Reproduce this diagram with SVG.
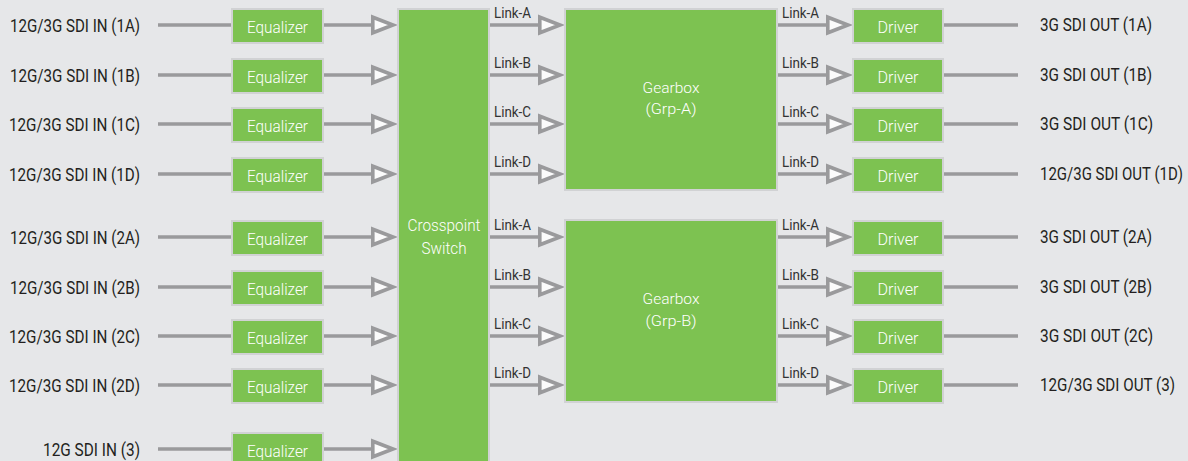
<svg xmlns="http://www.w3.org/2000/svg" width="1188" height="461" viewBox="0 0 1188 461">
<style>
.bg{fill:#e6e7e9}
.box{fill:#7dc251;stroke:#d1d2d4;stroke-width:2}
.ln{stroke:#9a9a9c;stroke-width:3.5;fill:none}
.t{font-family:Roboto,"Liberation Sans",Arial,sans-serif}
.lbl{font-size:17.5px;fill:#231f20;font-weight:400}
.lk{font-size:15.5px;fill:#333333;font-weight:400}
.wt{font-size:16.5px;fill:#ffffff;text-anchor:middle;font-weight:300}
</style>
<defs>
<marker id="arr" markerUnits="userSpaceOnUse" markerWidth="32" markerHeight="26" viewBox="-2 -13 32 26" refX="0" refY="0" orient="auto" overflow="visible">
<path d="M1.8,-7.8 L1.8,7.8 L22,0 Z" fill="#fbfbfb" stroke="#9a9a9c" stroke-width="3.6"/>
</marker>
</defs>
<rect class="bg" x="0" y="0" width="1188" height="461"/>

<g id="connectors">
<path class="ln" d="M158,25H231M158,75H231M158,124H231M158,174H231M158,237H231M158,287H231M158,336H231M158,385H231M158,449H231"/>
<path class="ln" d="M324,25H371" marker-end="url(#arr)"/>
<path class="ln" d="M324,75H371" marker-end="url(#arr)"/>
<path class="ln" d="M324,124H371" marker-end="url(#arr)"/>
<path class="ln" d="M324,174H371" marker-end="url(#arr)"/>
<path class="ln" d="M324,237H371" marker-end="url(#arr)"/>
<path class="ln" d="M324,287H371" marker-end="url(#arr)"/>
<path class="ln" d="M324,336H371" marker-end="url(#arr)"/>
<path class="ln" d="M324,385H371" marker-end="url(#arr)"/>
<path class="ln" d="M324,449H371" marker-end="url(#arr)"/>
<path class="ln" d="M489,25H538" marker-end="url(#arr)"/>
<path class="ln" d="M489,75H538" marker-end="url(#arr)"/>
<path class="ln" d="M489,124H538" marker-end="url(#arr)"/>
<path class="ln" d="M489,174H538" marker-end="url(#arr)"/>
<path class="ln" d="M489,237H538" marker-end="url(#arr)"/>
<path class="ln" d="M489,287H538" marker-end="url(#arr)"/>
<path class="ln" d="M489,336H538" marker-end="url(#arr)"/>
<path class="ln" d="M489,385H538" marker-end="url(#arr)"/>
<path class="ln" d="M778,25H826" marker-end="url(#arr)"/>
<path class="ln" d="M778,75H826" marker-end="url(#arr)"/>
<path class="ln" d="M778,124H826" marker-end="url(#arr)"/>
<path class="ln" d="M778,174H826" marker-end="url(#arr)"/>
<path class="ln" d="M778,237H826" marker-end="url(#arr)"/>
<path class="ln" d="M778,287H826" marker-end="url(#arr)"/>
<path class="ln" d="M778,336H826" marker-end="url(#arr)"/>
<path class="ln" d="M778,385H826" marker-end="url(#arr)"/>
<path class="ln" d="M944,25H1018M944,75H1018M944,124H1018M944,174H1018M944,237H1018M944,287H1018M944,336H1018M944,385H1018"/>
<g class="t lk">
<text x="494" y="18" textLength="37" lengthAdjust="spacingAndGlyphs">Link-A</text>
<text x="494" y="68" textLength="37" lengthAdjust="spacingAndGlyphs">Link-B</text>
<text x="494" y="117" textLength="37" lengthAdjust="spacingAndGlyphs">Link-C</text>
<text x="494" y="167" textLength="37" lengthAdjust="spacingAndGlyphs">Link-D</text>
<text x="494" y="230" textLength="37" lengthAdjust="spacingAndGlyphs">Link-A</text>
<text x="494" y="280" textLength="37" lengthAdjust="spacingAndGlyphs">Link-B</text>
<text x="494" y="329" textLength="37" lengthAdjust="spacingAndGlyphs">Link-C</text>
<text x="494" y="378" textLength="37" lengthAdjust="spacingAndGlyphs">Link-D</text>
<text x="782" y="18" textLength="37" lengthAdjust="spacingAndGlyphs">Link-A</text>
<text x="782" y="68" textLength="37" lengthAdjust="spacingAndGlyphs">Link-B</text>
<text x="782" y="117" textLength="37" lengthAdjust="spacingAndGlyphs">Link-C</text>
<text x="782" y="167" textLength="37" lengthAdjust="spacingAndGlyphs">Link-D</text>
<text x="782" y="230" textLength="37" lengthAdjust="spacingAndGlyphs">Link-A</text>
<text x="782" y="280" textLength="37" lengthAdjust="spacingAndGlyphs">Link-B</text>
<text x="782" y="329" textLength="37" lengthAdjust="spacingAndGlyphs">Link-C</text>
<text x="782" y="378" textLength="37" lengthAdjust="spacingAndGlyphs">Link-D</text>
</g>
</g>

<g id="inputs" class="t lbl" text-anchor="end">
<text x="140" y="31.5" textLength="130" lengthAdjust="spacingAndGlyphs">12G/3G SDI IN (1A)</text>
<text x="140" y="81.5" textLength="130" lengthAdjust="spacingAndGlyphs">12G/3G SDI IN (1B)</text>
<text x="140" y="130.5" textLength="131" lengthAdjust="spacingAndGlyphs">12G/3G SDI IN (1C)</text>
<text x="140" y="180.5" textLength="131" lengthAdjust="spacingAndGlyphs">12G/3G SDI IN (1D)</text>
<text x="140" y="243.5" textLength="130" lengthAdjust="spacingAndGlyphs">12G/3G SDI IN (2A)</text>
<text x="140" y="293.5" textLength="130" lengthAdjust="spacingAndGlyphs">12G/3G SDI IN (2B)</text>
<text x="140" y="342.5" textLength="131" lengthAdjust="spacingAndGlyphs">12G/3G SDI IN (2C)</text>
<text x="140" y="391.5" textLength="131" lengthAdjust="spacingAndGlyphs">12G/3G SDI IN (2D)</text>
<text x="140" y="455.5" textLength="97" lengthAdjust="spacingAndGlyphs">12G SDI IN (3)</text>
</g>

<g id="eq-1a"><rect class="box" x="232" y="9" width="91" height="34"/><text class="t wt" x="277.5" y="32.5" textLength="61" lengthAdjust="spacingAndGlyphs">Equalizer</text></g>
<g id="eq-1b"><rect class="box" x="232" y="59" width="91" height="34"/><text class="t wt" x="277.5" y="82.5" textLength="61" lengthAdjust="spacingAndGlyphs">Equalizer</text></g>
<g id="eq-1c"><rect class="box" x="232" y="108" width="91" height="34"/><text class="t wt" x="277.5" y="131.5" textLength="61" lengthAdjust="spacingAndGlyphs">Equalizer</text></g>
<g id="eq-1d"><rect class="box" x="232" y="158" width="91" height="34"/><text class="t wt" x="277.5" y="181.5" textLength="61" lengthAdjust="spacingAndGlyphs">Equalizer</text></g>
<g id="eq-2a"><rect class="box" x="232" y="221" width="91" height="34"/><text class="t wt" x="277.5" y="244.5" textLength="61" lengthAdjust="spacingAndGlyphs">Equalizer</text></g>
<g id="eq-2b"><rect class="box" x="232" y="271" width="91" height="34"/><text class="t wt" x="277.5" y="294.5" textLength="61" lengthAdjust="spacingAndGlyphs">Equalizer</text></g>
<g id="eq-2c"><rect class="box" x="232" y="320" width="91" height="34"/><text class="t wt" x="277.5" y="343.5" textLength="61" lengthAdjust="spacingAndGlyphs">Equalizer</text></g>
<g id="eq-2d"><rect class="box" x="232" y="369" width="91" height="34"/><text class="t wt" x="277.5" y="392.5" textLength="61" lengthAdjust="spacingAndGlyphs">Equalizer</text></g>
<g id="eq-3"><rect class="box" x="232" y="433" width="91" height="34"/><text class="t wt" x="277.5" y="456.5" textLength="61" lengthAdjust="spacingAndGlyphs">Equalizer</text></g>

<g id="crosspoint">
<rect class="box" x="398" y="9" width="91" height="470"/>
<text class="t wt" x="444" y="231" style="font-size:16.5px" textLength="73" lengthAdjust="spacingAndGlyphs">Crosspoint</text>
<text class="t wt" x="444" y="254" style="font-size:16.5px" textLength="45" lengthAdjust="spacingAndGlyphs">Switch</text>
</g>

<g id="gearbox-a">
<rect class="box" x="565" y="9" width="212" height="181"/>
<text class="t wt" x="671" y="92.5" style="font-size:15.5px" textLength="57" lengthAdjust="spacingAndGlyphs">Gearbox</text>
<text class="t wt" x="671" y="114" style="font-size:15.5px" textLength="51" lengthAdjust="spacingAndGlyphs">(Grp-A)</text>
</g>
<g id="gearbox-b">
<rect class="box" x="565" y="220" width="212" height="182"/>
<text class="t wt" x="671" y="304" style="font-size:15.5px" textLength="57" lengthAdjust="spacingAndGlyphs">Gearbox</text>
<text class="t wt" x="671" y="325.5" style="font-size:15.5px" textLength="51" lengthAdjust="spacingAndGlyphs">(Grp-B)</text>
</g>

<g id="drv-1a"><rect class="box" x="853" y="9" width="90" height="34"/><text class="t wt" x="898" y="32.5" textLength="41" lengthAdjust="spacingAndGlyphs">Driver</text></g>
<g id="drv-1b"><rect class="box" x="853" y="59" width="90" height="34"/><text class="t wt" x="898" y="82.5" textLength="41" lengthAdjust="spacingAndGlyphs">Driver</text></g>
<g id="drv-1c"><rect class="box" x="853" y="108" width="90" height="34"/><text class="t wt" x="898" y="131.5" textLength="41" lengthAdjust="spacingAndGlyphs">Driver</text></g>
<g id="drv-1d"><rect class="box" x="853" y="158" width="90" height="34"/><text class="t wt" x="898" y="181.5" textLength="41" lengthAdjust="spacingAndGlyphs">Driver</text></g>
<g id="drv-2a"><rect class="box" x="853" y="221" width="90" height="34"/><text class="t wt" x="898" y="244.5" textLength="41" lengthAdjust="spacingAndGlyphs">Driver</text></g>
<g id="drv-2b"><rect class="box" x="853" y="271" width="90" height="34"/><text class="t wt" x="898" y="294.5" textLength="41" lengthAdjust="spacingAndGlyphs">Driver</text></g>
<g id="drv-2c"><rect class="box" x="853" y="320" width="90" height="34"/><text class="t wt" x="898" y="343.5" textLength="41" lengthAdjust="spacingAndGlyphs">Driver</text></g>
<g id="drv-3"><rect class="box" x="853" y="369" width="90" height="34"/><text class="t wt" x="898" y="392.5" textLength="41" lengthAdjust="spacingAndGlyphs">Driver</text></g>

<g id="outputs" class="t lbl" transform="translate(1040 0) scale(0.87 1)">
<text x="0" y="31.5" textLength="128.7" lengthAdjust="spacingAndGlyphs">3G SDI OUT (1A)</text>
<text x="0" y="81.5" textLength="128.7" lengthAdjust="spacingAndGlyphs">3G SDI OUT (1B)</text>
<text x="0" y="130.5" textLength="129.9" lengthAdjust="spacingAndGlyphs">3G SDI OUT (1C)</text>
<text x="0" y="180.5" textLength="164.4" lengthAdjust="spacingAndGlyphs">12G/3G SDI OUT (1D)</text>
<text x="0" y="243.5" textLength="128.7" lengthAdjust="spacingAndGlyphs">3G SDI OUT (2A)</text>
<text x="0" y="293.5" textLength="128.7" lengthAdjust="spacingAndGlyphs">3G SDI OUT (2B)</text>
<text x="0" y="342.5" textLength="129.9" lengthAdjust="spacingAndGlyphs">3G SDI OUT (2C)</text>
<text x="0" y="391.5" textLength="155.2" lengthAdjust="spacingAndGlyphs">12G/3G SDI OUT (3)</text>
</g>
</svg>
